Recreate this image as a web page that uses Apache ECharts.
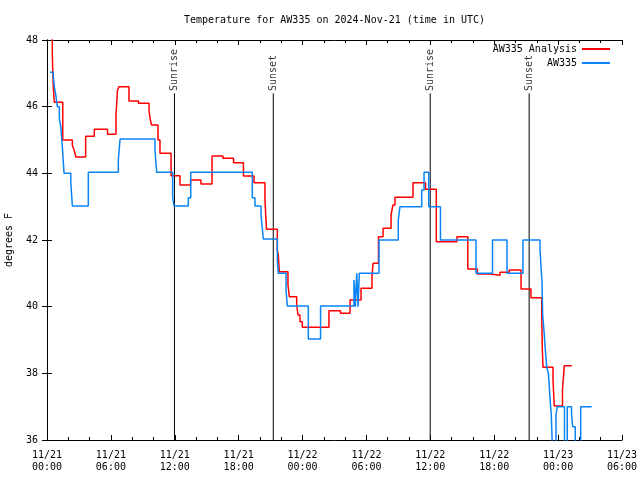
<!DOCTYPE html>
<html><head><meta charset="utf-8">
<script src="https://cdn.jsdelivr.net/npm/echarts@6/dist/echarts.min.js"></script>
<style>html,body{margin:0;padding:0;background:#fff}#c{width:640px;height:480px}</style>
</head><body><div id="c"></div>
<script>
// hours since 2024-11-21 00:00 UTC
const xTickLabels = ['11/21\n00:00','11/21\n06:00','11/21\n12:00','11/21\n18:00','11/22\n00:00','11/22\n06:00','11/22\n12:00','11/22\n18:00','11/23\n00:00','11/23\n06:00'];
const analysisT = [0.28,0.50,0.59,0.69,1.48,2.38,2.54,2.72,3.63,4.44,5.68,6.48,6.62,6.76,7.70,8.59,9.58,9.67,9.81,10.42,10.61,11.65,12.49,13.48,14.46,15.50,16.53,17.52,18.45,19.44,20.47,20.61,21.63,21.72,21.82,22.63,22.76,23.45,23.57,23.76,23.98,26.48,27.56,28.46,29.49,30.52,30.62,31.13,31.56,32.31,32.49,32.68,34.37,35.55,36.56,38.50,39.52,40.41,41.60,42.54,43.42,44.52,45.45,46.46,46.52,46.58,47.52,47.64,48.41,48.58,49.28];
const analysisV = [48.15,47.55,46.6,46.13,45.0,44.85,44.7,44.49,45.11,45.32,45.17,45.75,46.5,46.6,46.17,46.1,45.9,45.66,45.45,45.0,44.6,43.93,43.65,43.8,43.68,44.52,44.45,44.32,43.92,43.72,43.2,42.32,41.7,41.55,41.05,40.65,40.3,40.05,39.75,39.55,39.38,39.88,39.8,40.2,40.55,40.9,41.3,42.1,42.35,42.75,43.05,43.28,43.72,43.52,41.95,42.1,41.13,40.98,40.94,41.03,41.1,40.53,40.27,39.75,38.7,38.18,37.8,37.02,37.5,38.23,38.23];
const stationT = [0.28,0.59,0.69,0.85,0.97,1.16,1.29,1.44,1.60,2.23,2.38,3.88,6.70,6.86,10.14,10.30,11.80,11.93,13.27,13.50,19.28,19.53,20.10,20.24,20.31,21.63,21.72,22.45,22.57,24.54,25.69,28.83,28.95,29.09,29.21,29.33,31.18,32.99,33.15,35.19,35.41,35.85,36.95,40.29,41.84,43.20,44.70,46.30,46.39,46.49,46.55,46.68,46.80,46.93,47.08,47.14,47.24,47.36,47.49,47.80,47.92,48.60,48.86,49.26,49.37,49.61,50.12,51.15];
const stationV = [47.03,46.9,46.6,46.3,46.0,45.65,45.4,44.8,44.0,43.75,43.02,44.03,44.4,45.03,44.7,44.03,43.27,43.02,43.27,44.03,43.27,43.02,42.75,42.3,42.03,41.4,41.0,40.5,40.02,39.03,40.02,40.8,40.0,41.0,40.0,41.0,42.0,42.6,43.0,43.5,44.03,43.0,42.0,41.0,42.0,41.0,42.0,41.75,41.2,40.75,39.75,39.25,38.7,38.2,38.0,37.75,37.25,36.75,35.5,36.75,37.0,35.5,37.0,36.8,36.4,35.5,37.0,37.0];
const sunT = [11.97,21.25,35.99,45.28];
const sunLabels = ['Sunrise','Sunset','Sunrise','Sunset'];
const sunTop = 46.4, labelAt = 46.47;

const FONT = 'DejaVu Sans Mono';
const zip = (t, v) => t.map((x, i) => [x, v[i]]);
const series = [
  {name:'AW335 Analysis', type:'line', step:'end', data:zip(analysisT, analysisV), symbol:'none',
   lineStyle:{color:'#ff0000', width:1.5}, itemStyle:{color:'#ff0000'}, clip:true, z:3},
  {name:'AW335', type:'line', step:'end', data:zip(stationT, stationV), symbol:'none',
   lineStyle:{color:'#0a84f5', width:1.5}, itemStyle:{color:'#0a84f5'}, clip:true, z:4}
];
sunT.forEach((t, i) => {
  series.push({type:'line', data:[[t,36],[t,sunTop]], symbol:'none', silent:true,
    lineStyle:{color:'#000', width:1}, z:2});
  series.push({type:'scatter', data:[[t,labelAt]], symbolSize:0, silent:true,
    label:{show:true, position:'inside', formatter:sunLabels[i], rotate:90, align:'left', verticalAlign:'middle',
      fontFamily:FONT, fontSize:10, color:'#000'}});
});

const chart = echarts.init(document.getElementById('c'), null, {renderer:'canvas'});
const axisCommon = {
  type:'value', min:0, max:54, interval:6,
  axisLine:{show:true, lineStyle:{color:'#000', width:1}},
  axisTick:{show:true, inside:true, length:5, lineStyle:{color:'#000'}},
  minorTick:{show:true, splitNumber:3, length:3, lineStyle:{color:'#000'}},
  splitLine:{show:false}
};
chart.setOption({
  animation:false,
  backgroundColor:'#fff',
  title:{text:'Temperature for AW335 on 2024-Nov-21 (time in UTC)', left:179, top:10,
    textStyle:{fontFamily:FONT, fontSize:10, fontWeight:'normal', color:'#000'}},
  legend:{data:['AW335 Analysis','AW335'], orient:'vertical', right:30, top:43, align:'right',
    padding:0, itemGap:2, itemWidth:28, itemHeight:2, icon:'rect',
    textStyle:{fontFamily:FONT, fontSize:10, color:'#000', lineHeight:12}},
  grid:{left:47, right:18, top:40, bottom:40, containLabel:false, outerBoundsMode:'none'},
  xAxis:[
    Object.assign({}, axisCommon, {position:'bottom',
      axisLabel:{show:true, margin:9, fontFamily:FONT, fontSize:10, color:'#000', lineHeight:12,
        formatter:(v) => xTickLabels[Math.round(v/6)]}}),
    Object.assign({}, axisCommon, {position:'top', axisLabel:{show:false}})
  ],
  yAxis:[
    {type:'value', min:36, max:48, interval:2, position:'left',
     name:'degrees F', nameLocation:'middle', nameGap:33, nameRotate:90,
     nameTextStyle:{fontFamily:FONT, fontSize:10, color:'#000'},
     axisLine:{show:true, lineStyle:{color:'#000'}},
     axisTick:{show:true, inside:true, length:5, lineStyle:{color:'#000'}},
     axisLabel:{margin:9, fontFamily:FONT, fontSize:10, color:'#000'},
     splitLine:{show:false}},
    {type:'value', min:36, max:48, interval:2, position:'right',
     axisLine:{show:true, lineStyle:{color:'#000'}},
     axisTick:{show:true, inside:true, length:5, lineStyle:{color:'#000'}},
     axisLabel:{show:false}, splitLine:{show:false}}
  ],
  series:series
});
</script></body></html>
